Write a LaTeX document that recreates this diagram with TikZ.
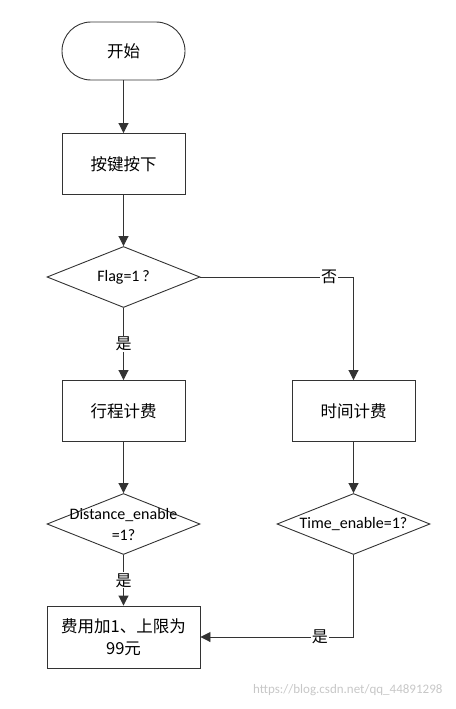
\documentclass[tikz,border=0pt]{standalone}
\usepackage{fontspec}
\setmainfont{Carlito}
\newfontfamily\cjk{Noto Sans CJK SC}
\usetikzlibrary{shapes.geometric,arrows.meta}

\tikzset{
  base/.style={draw=black!80, line width=0.9pt, font=\fontsize{16.5}{22}\selectfont},
  startstop/.style={base, rectangle, rounded corners=29pt, minimum width=123pt, minimum height=58pt},
  process/.style={base, rectangle, minimum width=123pt, minimum height=61pt, align=center},
  decision/.style={base, diamond, minimum width=153pt, minimum height=61pt, inner sep=0pt},
  ask/.style={font=\fontsize{16}{21}\selectfont, align=center},
  flow/.style={draw=black!80, line width=0.9pt, -{Triangle[width=10pt,length=10pt]}},
  answer/.style={fill=white, font=\cjk\fontsize{16}{18}\selectfont, inner sep=1pt}
}

\begin{document}
\begin{tikzpicture}[x=1pt, y=-1pt]
\useasboundingbox (0,0) rectangle (455,709);
% Boxes
\node[startstop] (start) at (123.5,51) {\cjk 开始};
\node[process] (key) at (123.5,164) {\cjk 按键按下};
\node[decision, label={[ask]center:Flag=1\,?}] (flag) at (123.5,277) {};
\node[process] (dist) at (123.5,411) {\cjk 行程计费};
\node[process] (time) at (353.5,411) {\cjk 时间计费};
\node[decision, label={[ask]center:{Distance\_enable\\=1?}}] (distq) at (123.5,524) {};
\node[decision, label={[ask]center:Time\_enable=1?}] (timeq) at (353.5,524) {};
\node[process, minimum width=153pt, minimum height=62pt] (fee) at (123.5,637)
  {\cjk 费用加1、上限为\\\cjk 99元};
% Connectors
\draw[flow] (start) -- (key);
\draw[flow] (key) -- (flag);
\draw[flow] (flag) -- node[answer] {是} (dist);
\draw[flow] (flag.east) -| node[answer, pos=0.42] {否} (time.north);
\draw[flow] (dist) -- (distq);
\draw[flow] (time) -- (timeq);
\draw[flow] (distq) -- node[answer] {是} (fee);
\draw[flow] (timeq.south) |- node[answer, pos=0.61] {是} (fee.east);
% Watermark
\node[text=black!22, font=\fontsize{13}{15}\selectfont, anchor=east] (mark) at (446,690)
  {https://blog.csdn.net/qq\_44891298};
\end{tikzpicture}
\end{document}
